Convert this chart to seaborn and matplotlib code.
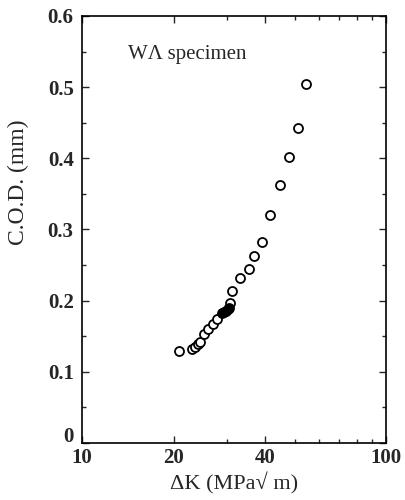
import numpy as np
import pandas as pd
import seaborn as sns
import matplotlib.pyplot as plt
import matplotlib.transforms as mtransforms
from matplotlib.ticker import FixedLocator, NullFormatter

# open circles: delta K (MPa sqrt m) vs C.O.D. (mm)
dk_open = [20.9, 23.0, 23.5, 24.1, 24.4, 25.2, 26.0, 27.0, 27.8, 30.7,
           31.1, 33.1, 35.4, 36.8, 39.1, 41.5, 44.8, 48.0, 51.4, 54.5]
cod_open = [0.129, 0.132, 0.135, 0.139, 0.142, 0.153, 0.160, 0.167, 0.174, 0.197,
            0.214, 0.232, 0.244, 0.263, 0.282, 0.320, 0.363, 0.402, 0.443, 0.504]
# filled cluster
dk_fill = [28.9, 29.3, 29.7, 30.2, 30.5]
cod_fill = [0.183, 0.184, 0.186, 0.188, 0.190]

x_ticks = [10, 20, 40, 100]
x_minor = [30, 50, 60, 70, 80, 90]
y_labels = ["0", "0.1", "0.2", "0.3", "0.4", "0.5", "0.6"]

sns.set_style("ticks")
plt.rcParams["font.family"] = ["Liberation Serif", "DejaVu Serif"]

fig = plt.figure(figsize=(4.06, 5.0), dpi=100)
ax = fig.add_axes([0.202, 0.114, 0.749, 0.854])

df_open = pd.DataFrame({"dk": dk_open, "cod": cod_open})
df_fill = pd.DataFrame({"dk": dk_fill, "cod": cod_fill})

sns.scatterplot(data=df_open, x="dk", y="cod", ax=ax, marker="o", s=42,
                facecolor="white", edgecolor="black", linewidth=1.3, zorder=3)
sns.scatterplot(data=df_fill, x="dk", y="cod", ax=ax, marker="o", s=42,
                color="black", edgecolor="black", linewidth=1.3, zorder=4)

ax.set_xscale("log")
ax.set_xlim(10, 100)
ax.set_ylim(0, 0.6)
ax.xaxis.set_major_locator(FixedLocator(x_ticks))
ax.xaxis.set_minor_locator(FixedLocator(x_minor))
ax.xaxis.set_minor_formatter(NullFormatter())
ax.set_xticklabels([str(t) for t in x_ticks])
ax.set_yticks(np.arange(0, 0.61, 0.1))
ax.set_yticks(np.arange(0.05, 0.6, 0.1), minor=True)
ax.set_yticklabels(y_labels)

ax.tick_params(which="both", direction="in", top=True, right=True,
               width=1.0, labelsize=15)
ax.tick_params(which="major", length=5)
ax.tick_params(which="minor", length=3)
ax.tick_params(axis="y", pad=6)
for lab in ax.get_xticklabels() + ax.get_yticklabels():
    lab.set_fontweight("bold")
# lift the "0" on the y axis a little, as in the original
zero = ax.get_yticklabels()[0]
zero.set_transform(zero.get_transform() +
                   mtransforms.ScaledTranslation(0, 6 / 72, fig.dpi_scale_trans))
for sp in ax.spines.values():
    sp.set_linewidth(1.2)
    sp.set_color("black")

ax.set_xlabel("\u0394K (MPa\u221a m)", fontsize=16, labelpad=3)
ax.set_ylabel("C.O.D. (mm)", fontsize=17)
ax.yaxis.set_label_coords(-0.175, 0.61)
ax.text(0.15, 0.9, "W\u039b specimen", transform=ax.transAxes, fontsize=15)

fig.savefig("out.png", dpi=100)
